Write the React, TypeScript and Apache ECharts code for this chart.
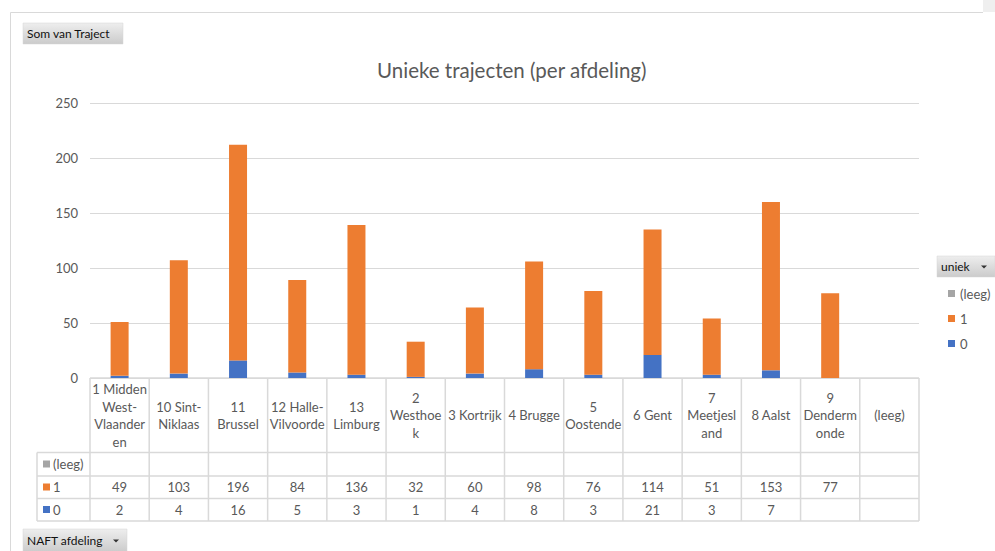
import React, { useEffect, useRef } from "react";
import * as echarts from "echarts";

// Afdelingen (categories) as they appear on the axis
const categories = [
  "1 Midden West-Vlaanderen",
  "10 Sint-Niklaas",
  "11 Brussel",
  "12 Halle-Vilvoorde",
  "13 Limburg",
  "2 Westhoek",
  "3 Kortrijk",
  "4 Brugge",
  "5 Oostende",
  "6 Gent",
  "7 Meetjesland",
  "8 Aalst",
  "9 Dendermonde",
  "(leeg)",
];

// Wrapped header texts for the data table cells
const headerLabels = [
  "1 Midden\nWest-\nVlaander\nen",
  "10 Sint-\nNiklaas",
  "11\nBrussel",
  "12 Halle-\nVilvoorde",
  "13\nLimburg",
  "2\nWesthoe\nk",
  "3 Kortrijk",
  "4 Brugge",
  "5\nOostende",
  "6 Gent",
  "7\nMeetjesl\nand",
  "8 Aalst",
  "9\nDenderm\nonde",
  "(leeg)",
];

// Series values (uniek = 1, uniek = 0, uniek = leeg)
const valuesOne: (number | null)[] = [49, 103, 196, 84, 136, 32, 60, 98, 76, 114, 51, 153, 77, null];
const valuesZero: (number | null)[] = [2, 4, 16, 5, 3, 1, 4, 8, 3, 21, 3, 7, null, null];
const valuesEmpty: (number | null)[] = [null, null, null, null, null, null, null, null, null, null, null, null, null, null];

// Value axis
const yMin = 0;
const yMax = 250;
const yInterval = 50;

const COLOR_EMPTY = "#A5A5A5";
const COLOR_ONE = "#ED7D31";
const COLOR_ZERO = "#4472C4";
const TEXT = "#595959";
const LINE = "#D9D9D9";
const FONT = "Lato, 'Noto Sans', sans-serif";

const W = 995;
const H = 551;
const gridLeft = 90;
const gridRight = 919;
const gridTop = 103;
const axisY = 378;

function button(x: number, y: number, w: number, h: number, label: string, arrow: boolean) {
  const children: any[] = [
    {
      type: "rect",
      shape: { x, y, width: w, height: h },
      style: {
        fill: new echarts.graphic.LinearGradient(0, 0, 0, 1, [
          { offset: 0, color: "#eeeeee" },
          { offset: 1, color: "#cbcbcb" },
        ]),
        stroke: "#d6d6d6",
        lineWidth: 0.5,
      },
    },
    {
      type: "text",
      x: x + 4,
      y: y + h / 2,
      style: { text: label, fill: "#111111", font: `12px ${FONT}`, verticalAlign: "middle", align: "left" },
    },
  ];
  if (arrow) {
    const ax = x + w - 14;
    const ay = y + h / 2 - 1;
    children.push({
      type: "polygon",
      shape: { points: [[ax, ay], [ax + 6, ay], [ax + 3, ay + 3]] },
      style: { fill: "#333333" },
    });
  }
  return { type: "group", children };
}

function tableGraphics() {
  const n = categories.length;
  const cellW = (gridRight - gridLeft) / n;
  const rowLines = [452.5, 476, 498.5, 521];
  const rowCenters = [464, 487, 509.5];
  const rows = [
    { name: "(leeg)", color: COLOR_EMPTY, values: valuesEmpty },
    { name: "1", color: COLOR_ONE, values: valuesOne },
    { name: "0", color: COLOR_ZERO, values: valuesZero },
  ];
  const els: any[] = [];
  const lineStyle = { stroke: LINE, lineWidth: 1.5 };

  // horizontal rules
  els.push({ type: "line", shape: { x1: gridLeft, y1: axisY, x2: gridRight, y2: axisY }, style: lineStyle });
  rowLines.forEach((y) => {
    els.push({ type: "line", shape: { x1: 37, y1: y, x2: gridRight, y2: y }, style: lineStyle });
  });
  // vertical rules
  for (let i = 0; i <= n; i++) {
    const x = gridLeft + i * cellW;
    els.push({ type: "line", shape: { x1: x, y1: axisY, x2: x, y2: 521 }, style: lineStyle });
  }
  els.push({ type: "line", shape: { x1: 37, y1: 452.5, x2: 37, y2: 521 }, style: lineStyle });

  // header cells
  headerLabels.forEach((label, i) => {
    els.push({
      type: "text",
      x: gridLeft + (i + 0.5) * cellW,
      y: (axisY + 452.5) / 2,
      style: {
        text: label,
        fill: TEXT,
        font: `13px ${FONT}`,
        lineHeight: 17.5,
        align: "center",
        verticalAlign: "middle",
      },
    });
  });

  // data rows with legend keys
  rows.forEach((row, r) => {
    const cy = rowCenters[r];
    els.push({ type: "rect", shape: { x: 43, y: cy - 3.5, width: 7, height: 7 }, style: { fill: row.color } });
    els.push({
      type: "text",
      x: 53,
      y: cy,
      style: { text: row.name, fill: TEXT, font: `13px ${FONT}`, verticalAlign: "middle", align: "left" },
    });
    row.values.forEach((v, i) => {
      if (v == null) return;
      els.push({
        type: "text",
        x: gridLeft + (i + 0.5) * cellW,
        y: cy,
        style: { text: String(v), fill: TEXT, font: `13px ${FONT}`, align: "center", verticalAlign: "middle" },
      });
    });
  });
  return els;
}

export default function App() {
  const ref = useRef<HTMLDivElement>(null);

  useEffect(() => {
    document.body.style.margin = "0";
    if (!ref.current) return;
    const chart = echarts.init(ref.current, undefined, { renderer: "svg" });

    const frame: any[] = [
      { type: "rect", shape: { x: 983, y: 0, width: 12, height: 12 }, style: { fill: "#efefef" } },
      { type: "line", shape: { x1: 10.5, y1: 12.5, x2: 983, y2: 12.5 }, style: { stroke: LINE, lineWidth: 1 } },
      { type: "line", shape: { x1: 10.5, y1: 12.5, x2: 10.5, y2: H }, style: { stroke: LINE, lineWidth: 1 } },
    ];

    chart.setOption({
      animation: false,
      backgroundColor: "#ffffff",
      title: {
        text: "Unieke trajecten (per afdeling)",
        left: 372,
        top: 54,
        textStyle: { color: TEXT, fontSize: 20.5, fontWeight: "normal", fontFamily: FONT },
      },
      legend: {
        orient: "vertical",
        left: 943,
        top: 282,
        itemWidth: 7,
        itemHeight: 7,
        itemGap: 12,
        icon: "rect",
        data: ["(leeg)", "1", "0"],
        textStyle: { color: TEXT, fontSize: 13, fontFamily: FONT },
      },
      grid: { left: gridLeft, right: W - gridRight, top: gridTop, bottom: H - axisY, containLabel: false },
      xAxis: {
        type: "category",
        data: categories,
        axisLine: { show: false },
        axisTick: { show: false },
        axisLabel: { show: false },
      },
      yAxis: {
        type: "value",
        min: yMin,
        max: yMax,
        interval: yInterval,
        axisLine: { show: false },
        axisTick: { show: false },
        axisLabel: { color: TEXT, fontSize: 13, fontFamily: FONT, margin: 12 },
        splitLine: { lineStyle: { color: LINE, width: 1 } },
      },
      series: [
        { name: "0", type: "bar", stack: "uniek", data: valuesZero, barWidth: 18, itemStyle: { color: COLOR_ZERO } },
        { name: "1", type: "bar", stack: "uniek", data: valuesOne, barWidth: 18, itemStyle: { color: COLOR_ONE } },
        { name: "(leeg)", type: "bar", stack: "uniek", data: valuesEmpty, barWidth: 18, itemStyle: { color: COLOR_EMPTY } },
      ],
      graphic: [
        ...frame,
        button(23, 23, 100, 21, "Som van Traject", false),
        button(23, 529, 104, 23, "NAFT afdeling", true),
        button(937, 256, 58, 21, "uniek", true),
        ...tableGraphics(),
      ],
    });

    return () => chart.dispose();
  }, []);

  return <div ref={ref} style={{ width: W, height: H, position: "absolute", left: 0, top: 0 }} />;
}
